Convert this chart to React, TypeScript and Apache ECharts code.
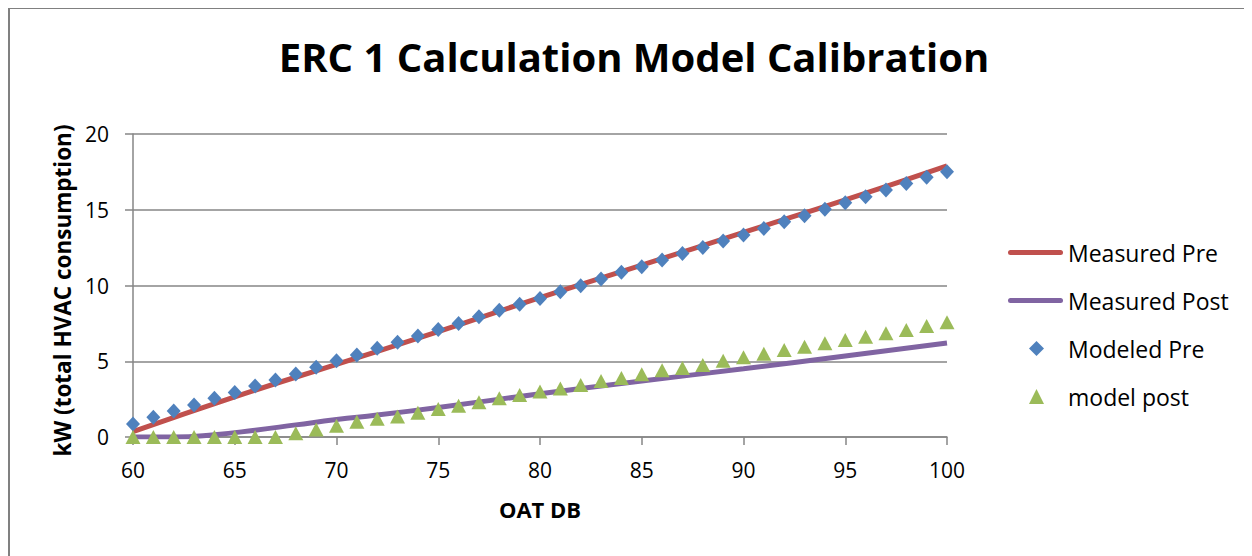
import React, { useEffect, useRef } from "react";
import * as echarts from "echarts";

const TITLE = "ERC 1 Calculation Model Calibration";
const X_NAME = "OAT DB";
const Y_NAME = "kW (total HVAC consumption)";

// Measured (fitted) lines
const measuredPreX = [60, 65, 70, 75, 80, 85, 90, 95, 100];
const measuredPreY = [0.35, 2.65, 4.8, 6.95, 9.2, 11.35, 13.5, 15.65, 17.9];

const measuredPostX = [60, 62, 64, 66, 68, 70, 72, 75, 80, 85, 90, 95, 100];
const measuredPostY = [0, 0, 0.15, 0.45, 0.8, 1.15, 1.45, 1.95, 2.85, 3.7, 4.5, 5.35, 6.2];

// Modeled points, one per degree 60..100
const modelX = [
  60, 61, 62, 63, 64, 65, 66, 67, 68, 69, 70, 71, 72, 73, 74, 75, 76, 77, 78, 79, 80,
  81, 82, 83, 84, 85, 86, 87, 88, 89, 90, 91, 92, 93, 94, 95, 96, 97, 98, 99, 100,
];
const modeledPre = [
  0.86, 1.3, 1.72, 2.11, 2.55, 2.93, 3.37, 3.76, 4.16, 4.6, 5.04, 5.41, 5.85, 6.25, 6.67,
  7.09, 7.5, 7.94, 8.36, 8.76, 9.15, 9.59, 9.99, 10.43, 10.87, 11.24, 11.68, 12.12, 12.51,
  12.94, 13.33, 13.77, 14.21, 14.61, 15.03, 15.46, 15.86, 16.3, 16.74, 17.14, 17.51,
];
const modelPost = [
  0, 0, 0, 0, 0, 0, 0, 0, 0.25, 0.5, 0.75, 1.0, 1.2, 1.35, 1.6,
  1.85, 2.07, 2.3, 2.55, 2.77, 3.0, 3.2, 3.43, 3.7, 3.9, 4.15, 4.4, 4.55, 4.75,
  5.04, 5.26, 5.5, 5.75, 5.96, 6.18, 6.4, 6.62, 6.84, 7.06, 7.33, 7.57,
];

const X_MIN = 60;
const X_MAX = 100;
const X_STEP = 5;
const Y_MIN = 0;
const Y_MAX = 20;
const Y_STEP = 5;

const FONT = "'Open Sans', 'Noto Sans', sans-serif";
const AXIS_GRAY = "#868686";
const LINE_ICON = "path://M2.5,0 H52.5 A2.5,2.5 0 0 1 52.5,5 H2.5 A2.5,2.5 0 0 1 2.5,0 Z";

export default function App() {
  const ref = useRef<HTMLDivElement>(null);

  useEffect(() => {
    if (!ref.current) return;
    const chart = echarts.init(ref.current, undefined, { renderer: "svg" });
    const zip = (xs: number[], ys: number[]) => xs.map((x, i) => [x, ys[i]]);
    const legendText = { fontFamily: FONT, fontSize: 23, color: "#000" };

    chart.setOption({
      animation: false,
      backgroundColor: "#ffffff",
      textStyle: { fontFamily: FONT, color: "#000" },
      title: {
        text: TITLE,
        left: 621,
        textAlign: "center",
        top: 23,
        textStyle: { fontFamily: FONT, fontSize: 40, fontWeight: "bold", color: "#000" },
      },
      graphic: [
        {
          type: "rect",
          shape: { x: 1, y: 0, width: 1400, height: 700 },
          style: { fill: "none", stroke: "#808080", lineWidth: 2 },
          silent: true,
        },
      ],
      legend: [
        {
          orient: "vertical",
          left: 1000,
          top: 233,
          padding: 0,
          itemWidth: 55,
          itemHeight: 5,
          itemGap: 25,
          textStyle: legendText,
          data: [
            { name: "Measured Pre", icon: LINE_ICON },
            { name: "Measured Post", icon: LINE_ICON },
          ],
        },
        {
          orient: "vertical",
          left: 1021,
          top: 329,
          padding: 0,
          itemWidth: 15,
          itemHeight: 15,
          itemGap: 25,
          textStyle: { ...legendText, padding: [0, 0, 0, 19] },
          data: [
            { name: "Modeled Pre", icon: "diamond" },
            { name: "model post", icon: "triangle" },
          ],
        },
      ],
      grid: { left: 125, top: 126, width: 814, height: 303, containLabel: false },
      xAxis: {
        type: "value",
        min: X_MIN,
        max: X_MAX,
        interval: X_STEP,
        name: X_NAME,
        nameLocation: "middle",
        nameGap: 61,
        nameTextStyle: { fontFamily: FONT, fontSize: 22, fontWeight: "bold", color: "#000" },
        axisLine: { show: true, lineStyle: { color: AXIS_GRAY, width: 1.5 } },
        axisTick: { show: true, length: 8, lineStyle: { color: AXIS_GRAY, width: 1.5 } },
        axisLabel: { fontFamily: FONT, fontSize: 21, color: "#000", margin: 22 },
        splitLine: { show: false },
      },
      yAxis: {
        type: "value",
        min: Y_MIN,
        max: Y_MAX,
        interval: Y_STEP,
        name: Y_NAME,
        nameLocation: "middle",
        nameRotate: 90,
        nameGap: 58,
        nameTextStyle: {
          fontFamily: FONT,
          fontSize: 22.5,
          fontWeight: "bold",
          color: "#000",
          padding: [0, 10, 0, 0],
        },
        axisLine: { show: true, lineStyle: { color: AXIS_GRAY, width: 1.5 } },
        axisTick: { show: true, length: 8, lineStyle: { color: AXIS_GRAY, width: 1.5 } },
        axisLabel: { fontFamily: FONT, fontSize: 21, color: "#000", margin: 24 },
        splitLine: { show: true, lineStyle: { color: AXIS_GRAY, width: 1.5 } },
      },
      series: [
        {
          name: "Measured Pre",
          type: "line",
          data: zip(measuredPreX, measuredPreY),
          showSymbol: false,
          symbol: "none",
          smooth: true,
          lineStyle: { color: "#C0504D", width: 5 },
          itemStyle: { color: "#C0504D" },
          z: 2,
        },
        {
          name: "Measured Post",
          type: "line",
          data: zip(measuredPostX, measuredPostY),
          showSymbol: false,
          symbol: "none",
          smooth: true,
          lineStyle: { color: "#8064A2", width: 5 },
          itemStyle: { color: "#8064A2" },
          z: 2,
        },
        {
          name: "Modeled Pre",
          type: "scatter",
          data: zip(modelX, modeledPre),
          symbol: "diamond",
          symbolSize: [14, 15],
          itemStyle: { color: "#4F81BD", opacity: 1 },
          z: 3,
        },
        {
          name: "model post",
          type: "scatter",
          data: zip(modelX, modelPost),
          symbol: "triangle",
          symbolSize: [15, 14],
          itemStyle: { color: "#9BBB59", opacity: 1 },
          z: 3,
        },
      ],
    });
    return () => chart.dispose();
  }, []);

  return <div ref={ref} style={{ width: 1244, height: 548 }} />;
}
